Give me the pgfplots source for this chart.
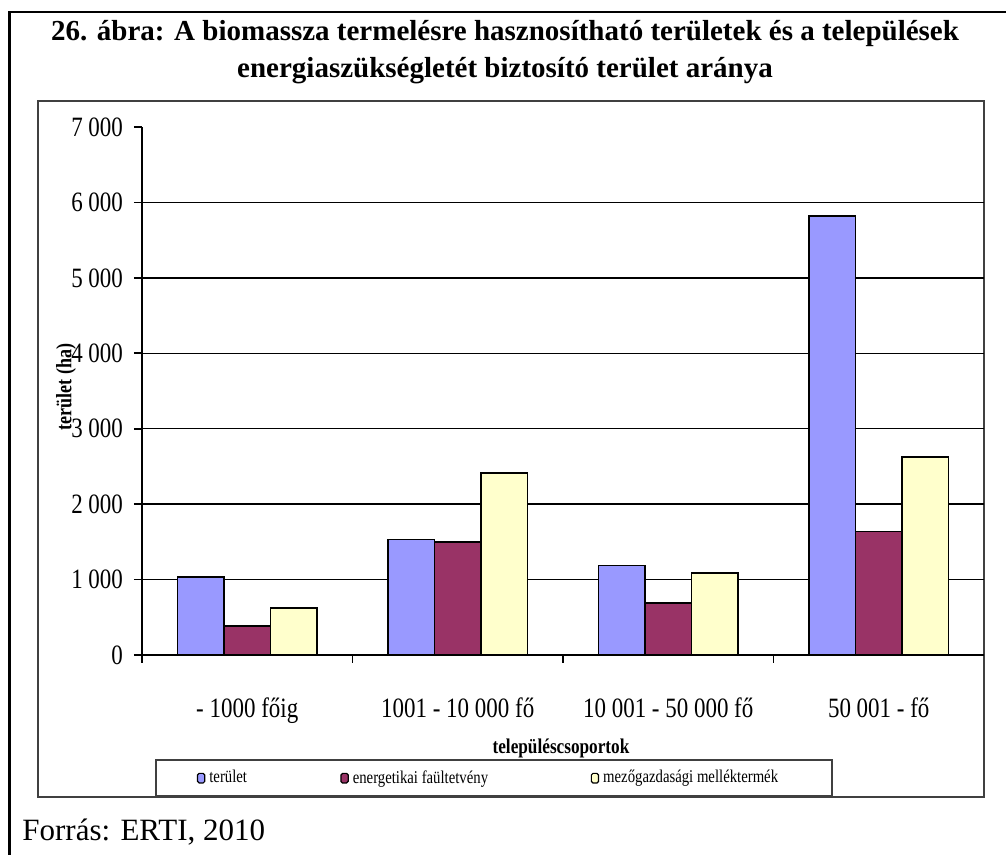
\documentclass[border=0pt]{standalone}
\usepackage{fontspec}
\setmainfont{Liberation Serif}
\newfontfamily\chartfont[FakeStretch=0.82]{Liberation Serif}
\usepackage{pgfplots}
\pgfplotsset{compat=1.18}
\definecolor{cblue}{HTML}{9999FF}
\definecolor{cpurple}{HTML}{993366}
\definecolor{cyellow}{HTML}{FFFFCC}
\begin{document}
\begin{tikzpicture}[x=0.5pt,y=0.5pt]
\useasboundingbox (0,0) rectangle (1006,855);
\draw[line width=1.2pt] (9.5,0) -- (9.5,843) -- (1006,843);
\node[font=\fontsize{14.5}{18.5}\selectfont\bfseries, align=center] at (505,803) {26. ábra: A biomassza termelésre hasznosítható területek és a települések\\ energiaszükségletét biztosító terület aránya};
\draw[line width=1pt, black!75] (38,58) rectangle (984,754);
\begin{axis}[at={(71pt,100pt)}, anchor=south west, scale only axis,
  width=421pt, height=264pt,
  ymin=0, ymax=7000, xmin=-0.5, xmax=3.5,
  ybar=0pt, bar width=0.221,
  axis x line*=bottom, axis y line*=left,
  axis line style={black, line width=0.8pt},
  ytick={0,1000,2000,3000,4000,5000,6000},
  yticklabels={0,1 000,2 000,3 000,4 000,5 000,6 000},
  extra y ticks={7000}, extra y tick labels={7 000},
  extra y tick style={grid=none},
  ymajorgrids=true, grid style={black, line width=0.75pt},
  xtick={0,1,2,3},
  xticklabels={- 1000 főig, 1001 - 10 000 fő, 10 001 - 50 000 fő, 50 001 - fő},
  minor xtick={-0.5,0.5,1.5,2.5},
  major x tick style={draw=none},
  tick align=outside, major tick length=4pt, minor tick length=4pt,
  tick style={black, line width=0.8pt},
  ticklabel style={font=\chartfont\fontsize{14}{16}\selectfont},
  xticklabel style={anchor=base, yshift=-27.5pt},
  yticklabel style={anchor=east, xshift=-2pt},
  every axis plot/.append style={draw=black, line width=0.7pt},
  legend columns=3,
  legend style={at={(0.0154,-0.269)}, anchor=south west, draw=black!75, line width=1pt,
    font=\chartfont\fontsize{9}{10}\selectfont, inner xsep=20.5pt, inner ysep=3pt,
    column sep=0pt, minimum height=10pt},
  legend image code/.code={\draw[#1, line width=0.6pt, rounded corners=0.8pt] (0pt,-2.4pt) rectangle (3.6pt,2.4pt);},
]
\addplot[fill=cblue] coordinates {(0,1035) (1,1530) (2,1190) (3,5820)};
\addplot[fill=cpurple] coordinates {(0,385) (1,1500) (2,690) (3,1640)};
\addplot[fill=cyellow] coordinates {(0,625) (1,2415) (2,1085) (3,2625)};
\legend{\makebox[63.5pt][l]{terület},\makebox[117pt][l]{energetikai faültetvény},\makebox[92pt][l]{mezőgazdasági melléktermék}}
\end{axis}
\node[rotate=90, font=\chartfont\fontsize{11}{12}\selectfont\bfseries] at (66,468) {terület (ha)};
\node[font=\chartfont\fontsize{10.5}{12}\selectfont\bfseries] at (561,107) {településcsoportok};
\node[anchor=base west, inner sep=0pt, font=\fontsize{15.5}{18}\selectfont] at (22,14) {Forrás: ERTI, 2010};
\end{tikzpicture}
\end{document}
